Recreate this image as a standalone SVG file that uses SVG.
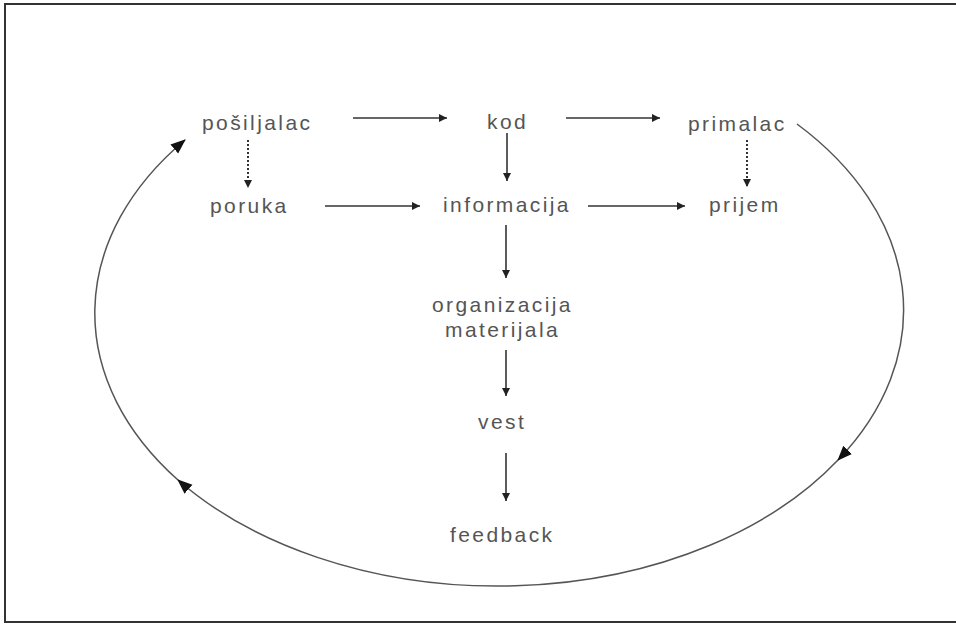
<svg xmlns="http://www.w3.org/2000/svg" width="956" height="624" viewBox="0 0 956 624">
<style>
  text { font-family: "Liberation Sans", Arial, sans-serif; font-size: 21px; fill: #555; letter-spacing: 2.4px; }
  .ar { stroke: #333; stroke-width: 1.6; fill: none; marker-end: url(#ah); }
  .dot { stroke: #333; stroke-width: 2; fill: none; stroke-dasharray: 2 2; marker-end: url(#ah); }
  .loop { stroke: #555; stroke-width: 1.5; fill: none; marker-mid: url(#big); marker-end: url(#big); }
</style>
<defs>
  <marker id="ah" markerUnits="userSpaceOnUse" markerWidth="9" markerHeight="8" refX="8" refY="4" orient="auto">
    <path d="M0,0 L8,4 L0,8 z" fill="#222"/>
  </marker>
  <marker id="big" markerUnits="userSpaceOnUse" markerWidth="16" markerHeight="13" refX="14" refY="6" orient="auto">
    <path d="M0,0 L15,6 L0,12 z" fill="#111"/>
  </marker>
</defs>
<rect x="5" y="4" width="960" height="618" fill="#fff" stroke="#333" stroke-width="2"/>

<g id="connectors">
  <path class="ar" d="M353,118 L447,118"/>
  <path class="ar" d="M566,118 L660,118"/>
  <path class="ar" d="M507,133 L507,181" stroke-width="2"/>
  <path class="ar" d="M325,206 L420,206"/>
  <path class="ar" d="M588,206 L685,206"/>
  <path class="dot" d="M248,140 L248,188"/>
  <path class="dot" d="M747,140 L747,187"/>
  <path class="ar" d="M506,225 L506,278" stroke-width="2"/>
  <path class="ar" d="M506,350 L506,396" stroke-width="2"/>
  <path class="ar" d="M506,453 L506,501" stroke-width="2"/>
  <path class="loop" d="M797,124 A405,275 0 0 1 838,460 A405,275 0 0 1 178,480 A405,275 0 0 1 185,140"/>
</g>

<g id="posiljalac"><text x="202" y="130">pošiljalac</text></g>
<g id="kod"><text x="487" y="129">kod</text></g>
<g id="primalac"><text x="688" y="131">primalac</text></g>
<g id="poruka"><text x="210" y="213">poruka</text></g>
<g id="informacija"><text x="443" y="212">informacija</text></g>
<g id="prijem"><text x="709" y="212">prijem</text></g>
<g id="organizacija"><text x="432" y="312">organizacija</text><text x="445" y="337">materijala</text></g>
<g id="vest"><text x="478" y="429">vest</text></g>
<g id="feedback"><text x="450" y="542">feedback</text></g>
</svg>
